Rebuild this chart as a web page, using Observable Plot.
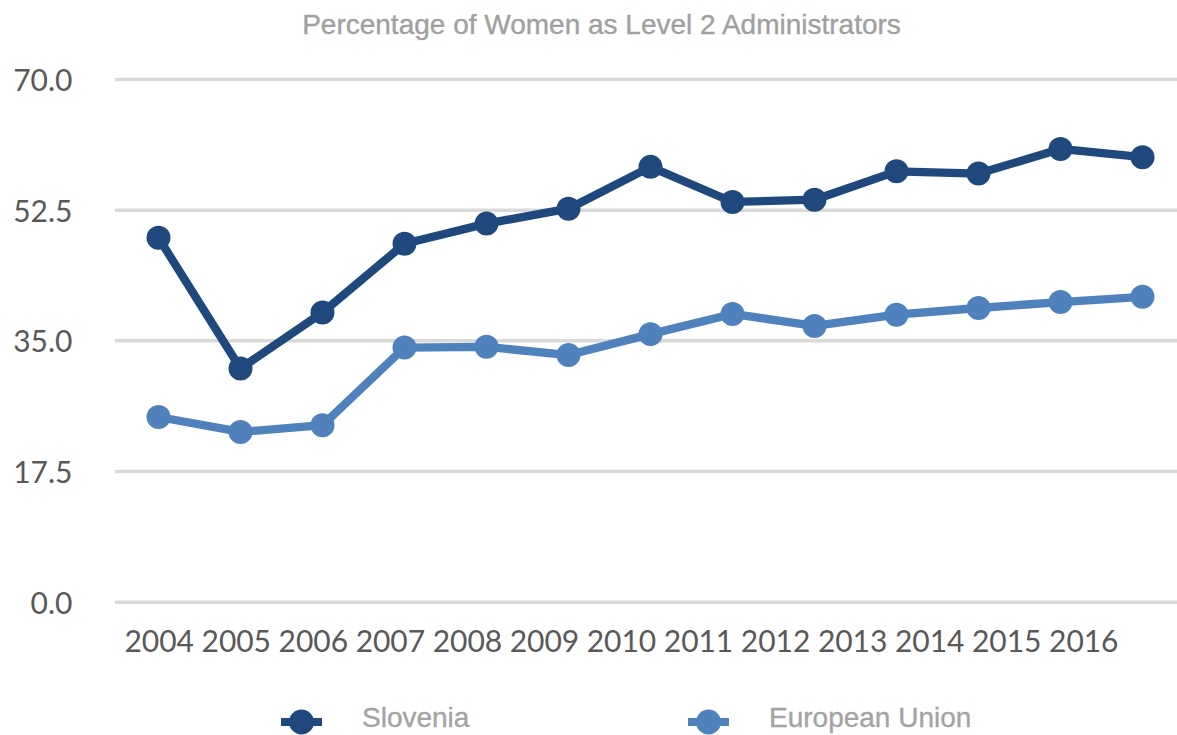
<!DOCTYPE html>
<html>
<head>
<meta charset="utf-8">
<script src="https://cdn.jsdelivr.net/npm/d3@7"></script>
<script src="https://cdn.jsdelivr.net/npm/@observablehq/plot@0.6"></script>
<style>
  html, body { margin: 0; padding: 0; background: #fff; overflow: hidden; width: 1177px; height: 735px; }
  #title { height: 55px; box-sizing: border-box; padding-left: 26px; padding-top: 5px; text-align: center;
           font-family: "Liberation Sans", Arial, sans-serif; font-size: 28px; line-height: 40px; color: #a0a0a0;
           -webkit-text-stroke: 0.35px #a0a0a0; }
  #legend { position: relative; height: 40px; overflow: hidden; }
  .sym { position: absolute; top: 14px; }
  .lab { position: absolute; top: 12px; font-family: "Liberation Sans", Arial, sans-serif; font-size: 28px;
         line-height: 22px; color: #a3a3a3; white-space: nowrap; -webkit-text-stroke: 0.35px #a3a3a3; }
</style>
</head>
<body>
<div id="title">Percentage of Women as Level 2 Administrators</div>
<div id="chart"></div>
<div id="legend"></div>
<script>
const years = ["2004","2005","2006","2007","2008","2009","2010","2011","2012","2013","2014","2015","2016"];
const slovenia = [48.8, 31.3, 38.8, 48.0, 50.7, 52.7, 58.3, 53.6, 53.9, 57.7, 57.4, 60.7, 59.6];
const europeanUnion = [24.8, 22.8, 23.7, 34.1, 34.2, 33.1, 35.9, 38.6, 37.0, 38.5, 39.4, 40.2, 40.9];
const yTicks = [0, 17.5, 35, 52.5, 70];
const seriesNames = ["Slovenia", "European Union"];
const seriesColors = ["#1f497d", "#4f81bd"];

const data = [];
seriesNames.forEach((s, k) => {
  const vals = k === 0 ? slovenia : europeanUnion;
  years.forEach((y, i) => data.push({year: y, series: s, value: vals[i]}));
});

const yearString = years.join(" ");

const plot = Plot.plot({
  width: 1177,
  height: 640,
  marginLeft: 115,
  marginRight: -8,
  marginTop: 24,
  marginBottom: 93.3,
  style: {fontFamily: "Lato, sans-serif", background: "white", overflow: "visible"},
  x: {type: "point", domain: years, padding: 0.5, axis: null},
  y: {domain: [0, 70]},
  color: {domain: seriesNames, range: seriesColors},
  marks: [
    Plot.ruleY(yTicks, {stroke: "#d9d9d9", strokeWidth: 3.5}),
    Plot.axisY(yTicks, {tickFormat: d3.format(".1f"), tickSize: 0, tickPadding: 43, fontSize: 30, fill: "#595959", dy: 2, label: null}),
    Plot.text([yearString], {frameAnchor: "bottom-left", textAnchor: "start", lineAnchor: "middle", dx: 9, dy: 40, fontSize: 30, fill: "#595959"}),
    Plot.line(data, {x: "year", y: "value", z: "series", stroke: "series", strokeWidth: 8.3, strokeLinejoin: "round"}),
    Plot.dot(data, {x: "year", y: "value", fill: "series", r: 12})
  ]
});

const lbl = [...plot.querySelectorAll("text")].find(t => t.textContent === yearString);
if (lbl) { lbl.setAttribute("textLength", 994); lbl.setAttribute("lengthAdjust", "spacing"); }

document.getElementById("chart").appendChild(plot);

// legend
const legend = d3.select("#legend");
const legendPos = [281, 688];
seriesNames.forEach((name, i) => {
  const svg = legend.append("svg").attr("class", "sym").attr("width", 41).attr("height", 26)
    .style("left", legendPos[i] + "px");
  svg.append("line").attr("x1", 0).attr("x2", 41).attr("y1", 13).attr("y2", 13)
    .attr("stroke", seriesColors[i]).attr("stroke-width", 8);
  svg.append("circle").attr("cx", 20.5).attr("cy", 13).attr("r", 12.5).attr("fill", seriesColors[i]);
  legend.append("span").attr("class", "lab").style("left", (legendPos[i] + 81) + "px").text(name);
});
</script>
</body>
</html>
